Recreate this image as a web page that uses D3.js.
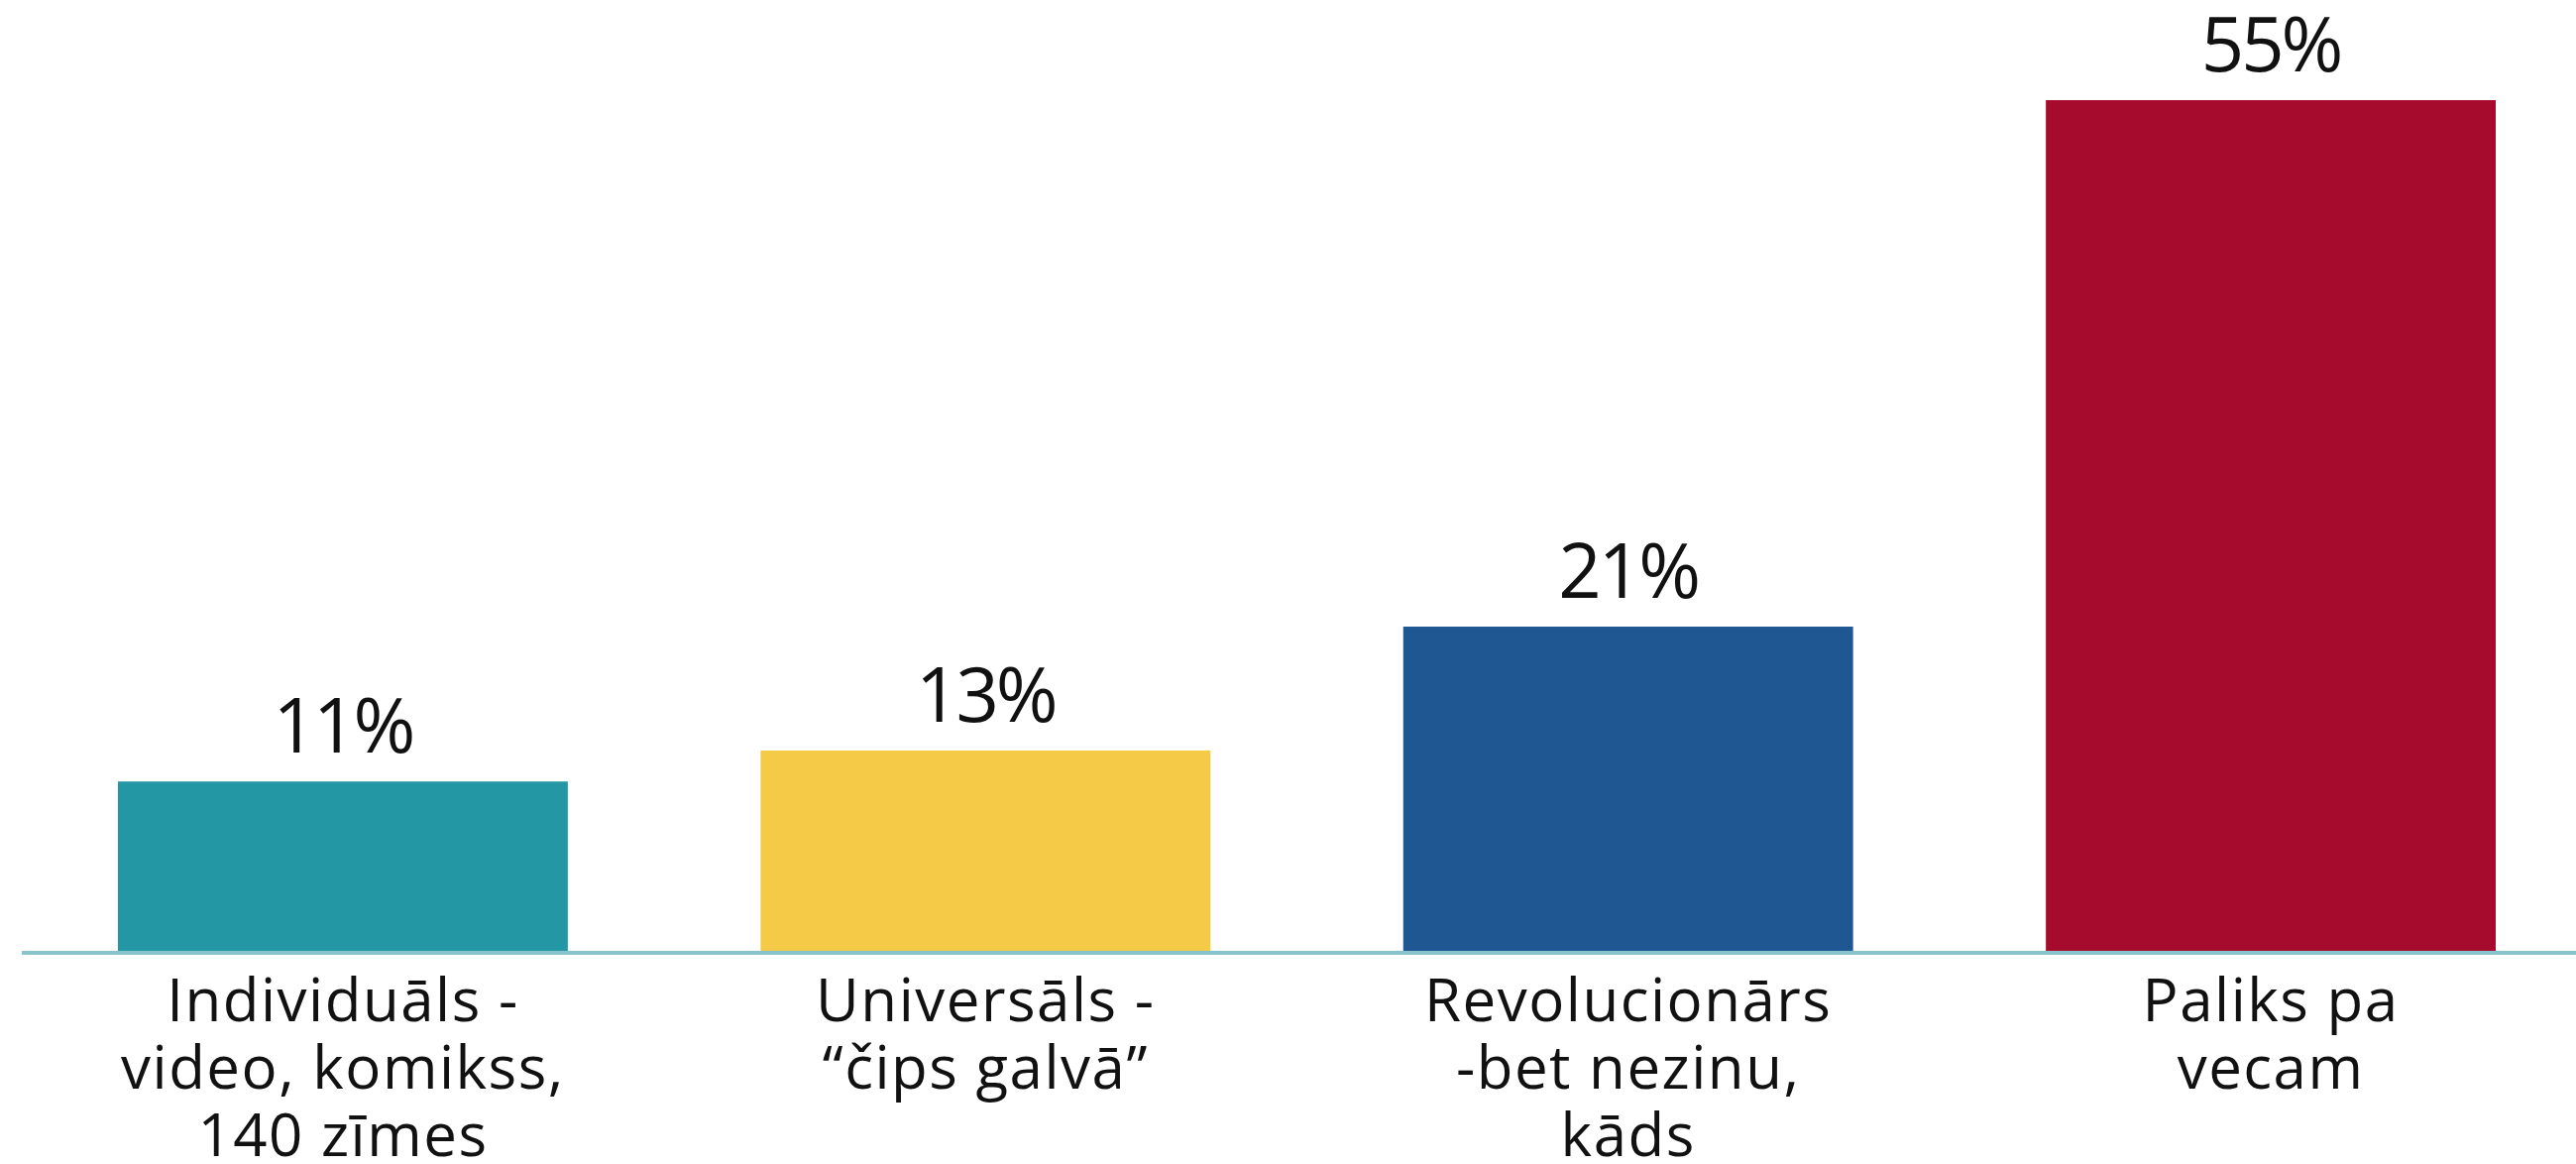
<!DOCTYPE html>
<html>
<head>
  <meta charset="utf-8">
  <script src="https://cdnjs.cloudflare.com/ajax/libs/d3/7.8.5/d3.min.js"></script>
  <title>Bar chart</title>
  <style>
    body { margin: 0; background: #fff; }
    text { font-family: "Open Sans", Roboto, sans-serif; fill: #111; }
  </style>
</head>
<body>
<script>
// data
const categories = ["Individuāls - video, komikss, 140 zīmes", "Universāls - čips galvā",
                    "Revolucionārs -bet nezinu, kāds", "Paliks pa vecam"];
const labelLines = [
  ["Individuāls -", "video, komikss,", "140 zīmes"],
  ["Universāls -", "“čips galvā”"],
  ["Revolucionārs", "-bet nezinu,", "kāds"],
  ["Paliks pa", "vecam"]
];
const values = [11, 13, 21, 55];
const colors = ["#2397a3", "#f5ca46", "#1e5792", "#a60b2d"];

const W = 2599, H = 1174;
const baseY = 960;

const svg = d3.select("body").append("svg")
    .attr("width", W)
    .attr("height", H);

const x = d3.scaleBand()
    .domain(categories)
    .range([119, 2518])
    .paddingInner(0.3)
    .paddingOuter(0);

const y = d3.scaleLinear()
    .domain([0, 55])
    .range([baseY, 101]);

// bars
svg.selectAll("rect.bar")
  .data(values)
  .enter().append("rect")
    .attr("class", "bar")
    .attr("x", (d, i) => x(categories[i]))
    .attr("width", x.bandwidth())
    .attr("y", d => y(d))
    .attr("height", d => y(0) - y(d))
    .style("fill", (d, i) => colors[i]);

// baseline
svg.append("line")
    .attr("x1", 22).attr("x2", W)
    .attr("y1", baseY + 1).attr("y2", baseY + 1)
    .style("stroke", "#86c3cb")
    .style("stroke-width", 4);

// value labels
svg.selectAll("text.val")
  .data(values)
  .enter().append("text")
    .attr("class", "val")
    .attr("x", (d, i) => x(categories[i]) + x.bandwidth() / 2)
    .attr("y", d => y(d) - 29)
    .attr("text-anchor", "middle")
    .style("font-size", "76px")
    .style("letter-spacing", "-3px")
    .text(d => d + "%");

// category labels
const cat = svg.selectAll("text.cat")
  .data(labelLines)
  .enter().append("text")
    .attr("class", "cat")
    .attr("text-anchor", "middle")
    .attr("transform", (d, i) => "translate(" + (x(categories[i]) + x.bandwidth() / 2) + "," + (baseY + 70) + ")")
    .style("font-size", "60px")
    .style("letter-spacing", "1.5px");

cat.selectAll("tspan")
  .data(d => d)
  .enter().append("tspan")
    .attr("x", 0)
    .attr("y", (d, i) => i * 68)
    .text(d => d);
</script>
</body>
</html>
